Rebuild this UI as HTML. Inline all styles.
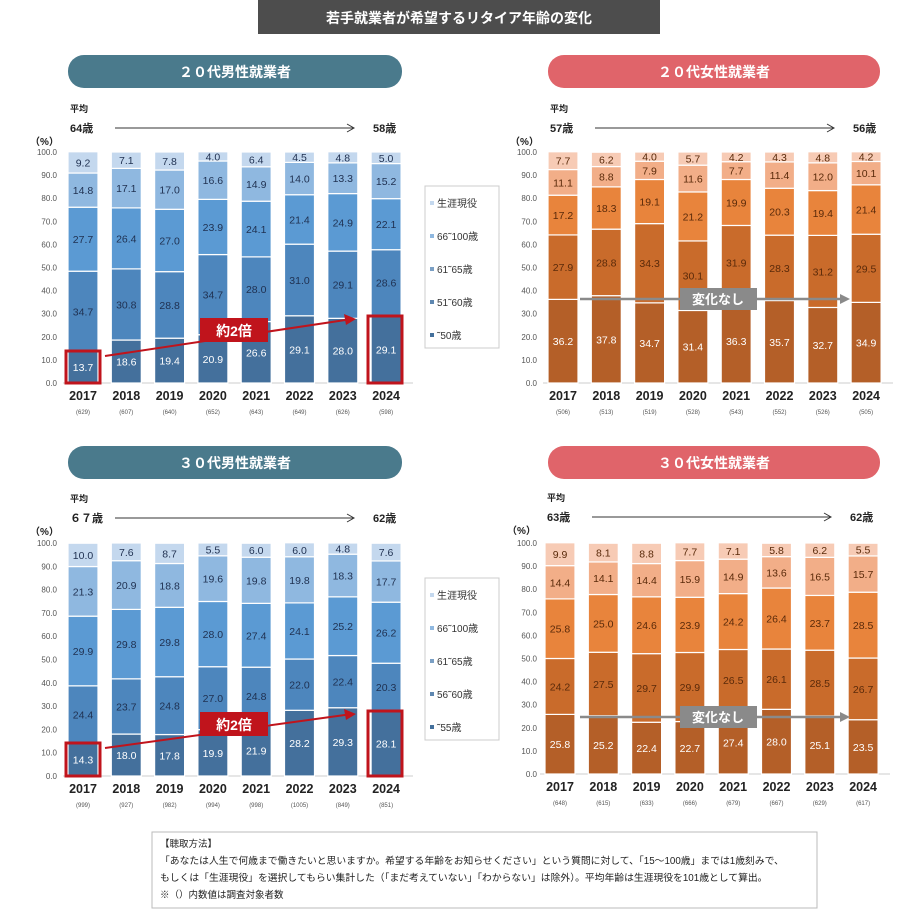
<!DOCTYPE html>
<html><head><meta charset="utf-8">
<style>
body{margin:0;background:#fff;width:900px;height:912px;overflow:hidden;font-family:"Liberation Sans","Noto Sans CJK JP",sans-serif}
svg text{font-family:"Liberation Sans","Noto Sans CJK JP",sans-serif}
</style></head><body>
<svg id="s" width="900" height="912" xmlns="http://www.w3.org/2000/svg"></svg>
<script>
const S=document.getElementById('s');let h='';
function R(x,y,w,H,f,ex=''){h+=`<rect x="${x}" y="${y}" width="${w}" height="${H}" fill="${f}" ${ex}/>`;}
function T(x,y,t,sz,f,a='start',w='normal'){h+=`<text x="${x}" y="${y}" font-size="${sz}" fill="${f}" text-anchor="${a}" font-weight="${w}">${t}</text>`;}
R(258,0,402,34,'#4d4d4d');T(459,23,'若手就業者が希望するリタイア年齢の変化',14,'#fff','middle','bold');
function pill(x,y,w,c,t){R(x,y,w,33,c,'rx="16"');T(x+w/2,y+22,t,14,'#fff','middle','bold');}
pill(68,55,334,'#4a7a8c','２０代男性就業者');pill(548,55,332,'#e0646a','２０代女性就業者');
pill(68,446,334,'#4a7a8c','３０代男性就業者');pill(548,446,332,'#e0646a','３０代女性就業者');
const blue=['#44709c','#4d86bd','#5b9ad3','#8fb8e0','#c4d8ee'],org=['#b45f28','#c96b2b','#e8843c','#f2ae88','#f7cbb5'];
const yrs=[2017,2018,2019,2020,2021,2022,2023,2024];
function panel(ox,top,bot,cols,data,ns,lc,ax,avgY,a1,a2){
 const k=(bot-top)/100;
 for(let i=0;i<=10;i++){T(ax,bot-i*10*k+3,(i*10).toFixed(1),8,'#555','end');}
 h+=`<line x1="${ox-20}" y1="${bot}" x2="${ox+330}" y2="${bot}" stroke="#ccc"/>`;
 yrs.forEach((yr,j)=>{const cx=ox+j*43.3;let y=bot;
  data[j].forEach((v,s)=>{const hh=v*k;R(cx-15,y-hh,30,hh,cols[s],'stroke="#fff" stroke-width="1.2"');
   T(cx,y-hh/2+4,v.toFixed(1),10.5,s==0?'#fff':lc,'middle');y-=hh;});
  T(cx,bot+17,yr,12.5,'#222','middle','bold');T(cx,bot+31,'('+ns[j]+')',6,'#555','middle');});
 T(ox-13,avgY-18,'平均',9,'#222','start','bold');T(ox-13,avgY+2,a1,11,'#222','start','bold');
 h+=`<line x1="${ox+32}" y1="${avgY-2}" x2="${ox+270}" y2="${avgY-2}" stroke="#333"/><path d="M${ox+264},${avgY-6} L${ox+271},${avgY-2} L${ox+264},${avgY+2}" fill="none" stroke="#333"/>`;
 T(ox+290,avgY+2,a2,11,'#222','start','bold');T(ox-53,avgY+15,'（%）',10,'#222','start','bold');
}
const d1=[[13.7,34.7,27.7,14.8,9.2],[18.6,30.8,26.4,17.1,7.1],[19.4,28.8,27.0,17.0,7.8],[20.9,34.7,23.9,16.6,4.0],[26.6,28.0,24.1,14.9,6.4],[29.1,31.0,21.4,14.0,4.5],[28.0,29.1,24.9,13.3,4.8],[29.1,28.6,22.1,15.2,5.0]];
const d2=[[36.2,27.9,17.2,11.1,7.7],[37.8,28.8,18.3,8.8,6.2],[34.7,34.3,19.1,7.9,4.0],[31.4,30.1,21.2,11.6,5.7],[36.3,31.9,19.9,7.7,4.2],[35.7,28.3,20.3,11.4,4.3],[32.7,31.2,19.4,12.0,4.8],[34.9,29.5,21.4,10.1,4.2]];
const d3=[[14.3,24.4,29.9,21.3,10.0],[18.0,23.7,29.8,20.9,7.6],[17.8,24.8,29.8,18.8,8.7],[19.9,27.0,28.0,19.6,5.5],[21.9,24.8,27.4,19.8,6.0],[28.2,22.0,24.1,19.8,6.0],[29.3,22.4,25.2,18.3,4.8],[28.1,20.3,26.2,17.7,7.6]];
const d4=[[25.8,24.2,25.8,14.4,9.9],[25.2,27.5,25.0,14.1,8.1],[22.4,29.7,24.6,14.4,8.8],[22.7,29.9,23.9,15.9,7.7],[27.4,26.5,24.2,14.9,7.1],[28.0,26.1,26.4,13.6,5.8],[25.1,28.5,23.7,16.5,6.2],[23.5,26.7,28.5,15.7,5.5]];
panel(83,152,383,blue,d1,[629,607,640,652,643,649,626,598],'#1f3050',57,130,'64歳','58歳');
panel(563,152,383,org,d2,[506,513,519,528,543,552,526,505],'#5a2a0a',537,130,'57歳','56歳');
panel(83,543,776,blue,d3,[999,927,982,994,998,1005,849,851],'#1f3050',57,520,'６７歳','62歳');
panel(560,543,774,org,d4,[648,615,633,666,679,667,629,617],'#5a2a0a',537,519,'63歳','62歳');
function legend(y,lab){R(425,y,74,162,'#fff','stroke="#ccc"');lab.forEach((l,i)=>{const yy=y+20+i*33;R(430,yy-5,4,4,['#c4d8ee','#8fb8e0','#7a9fc4','#5e87b0','#44709c'][i]);T(437,yy+1,l,10,'#333');});}
legend(186,['生涯現役','66˜100歳','61˜65歳','51˜60歳','˜50歳']);
legend(578,['生涯現役','66˜100歳','61˜65歳','56˜60歳','˜55歳']);
function red(bx1,by1,bh1,bx2,by2,bh2,ly){
 R(bx1,by1,34,bh1,'none','stroke="#c0141c" stroke-width="3"');R(bx2,by2,34,bh2,'none','stroke="#c0141c" stroke-width="3"');
 h+=`<line x1="105" y1="${by1+5}" x2="352" y2="${by2+3}" stroke="#c0141c" stroke-width="2"/><path d="M344,${by2-2} L356,${by2+3} L346,${by2+9}Z" fill="#c0141c"/>`;
 R(200,ly,68,24,'#c0141c');T(234,ly+18,'約2倍',14,'#fff','middle','bold');}
red(66,351,32,368,316,67,318);red(66,743,33,368,711,65,712);
function gray(y){h+=`<line x1="580" y1="${y}" x2="843" y2="${y}" stroke="#8a8a8a" stroke-width="2.5"/><path d="M840,${y-5} L850,${y} L840,${y+5}Z" fill="#8a8a8a"/>`;R(680,y-11,77,22,'#8a8a8a');T(718,y+5,'変化なし',13,'#fff','middle','bold');}
gray(299);gray(717);
R(152,832,665,76,'#fff','stroke="#bbb"');
T(160,847,'【聴取方法】',9.5,'#222');
T(160,864,'「あなたは人生で何歳まで働きたいと思いますか。希望する年齢をお知らせください」という質問に対して、「15～100歳」までは1歳刻みで、',9.8,'#222');
T(160,881,'もしくは「生涯現役」を選択してもらい集計した（「まだ考えていない」「わからない」は除外）。平均年齢は生涯現役を101歳として算出。',9.8,'#222');
T(160,898,'※（）内数値は調査対象者数',9.5,'#222');
S.innerHTML=h;
</script>
</body></html>
